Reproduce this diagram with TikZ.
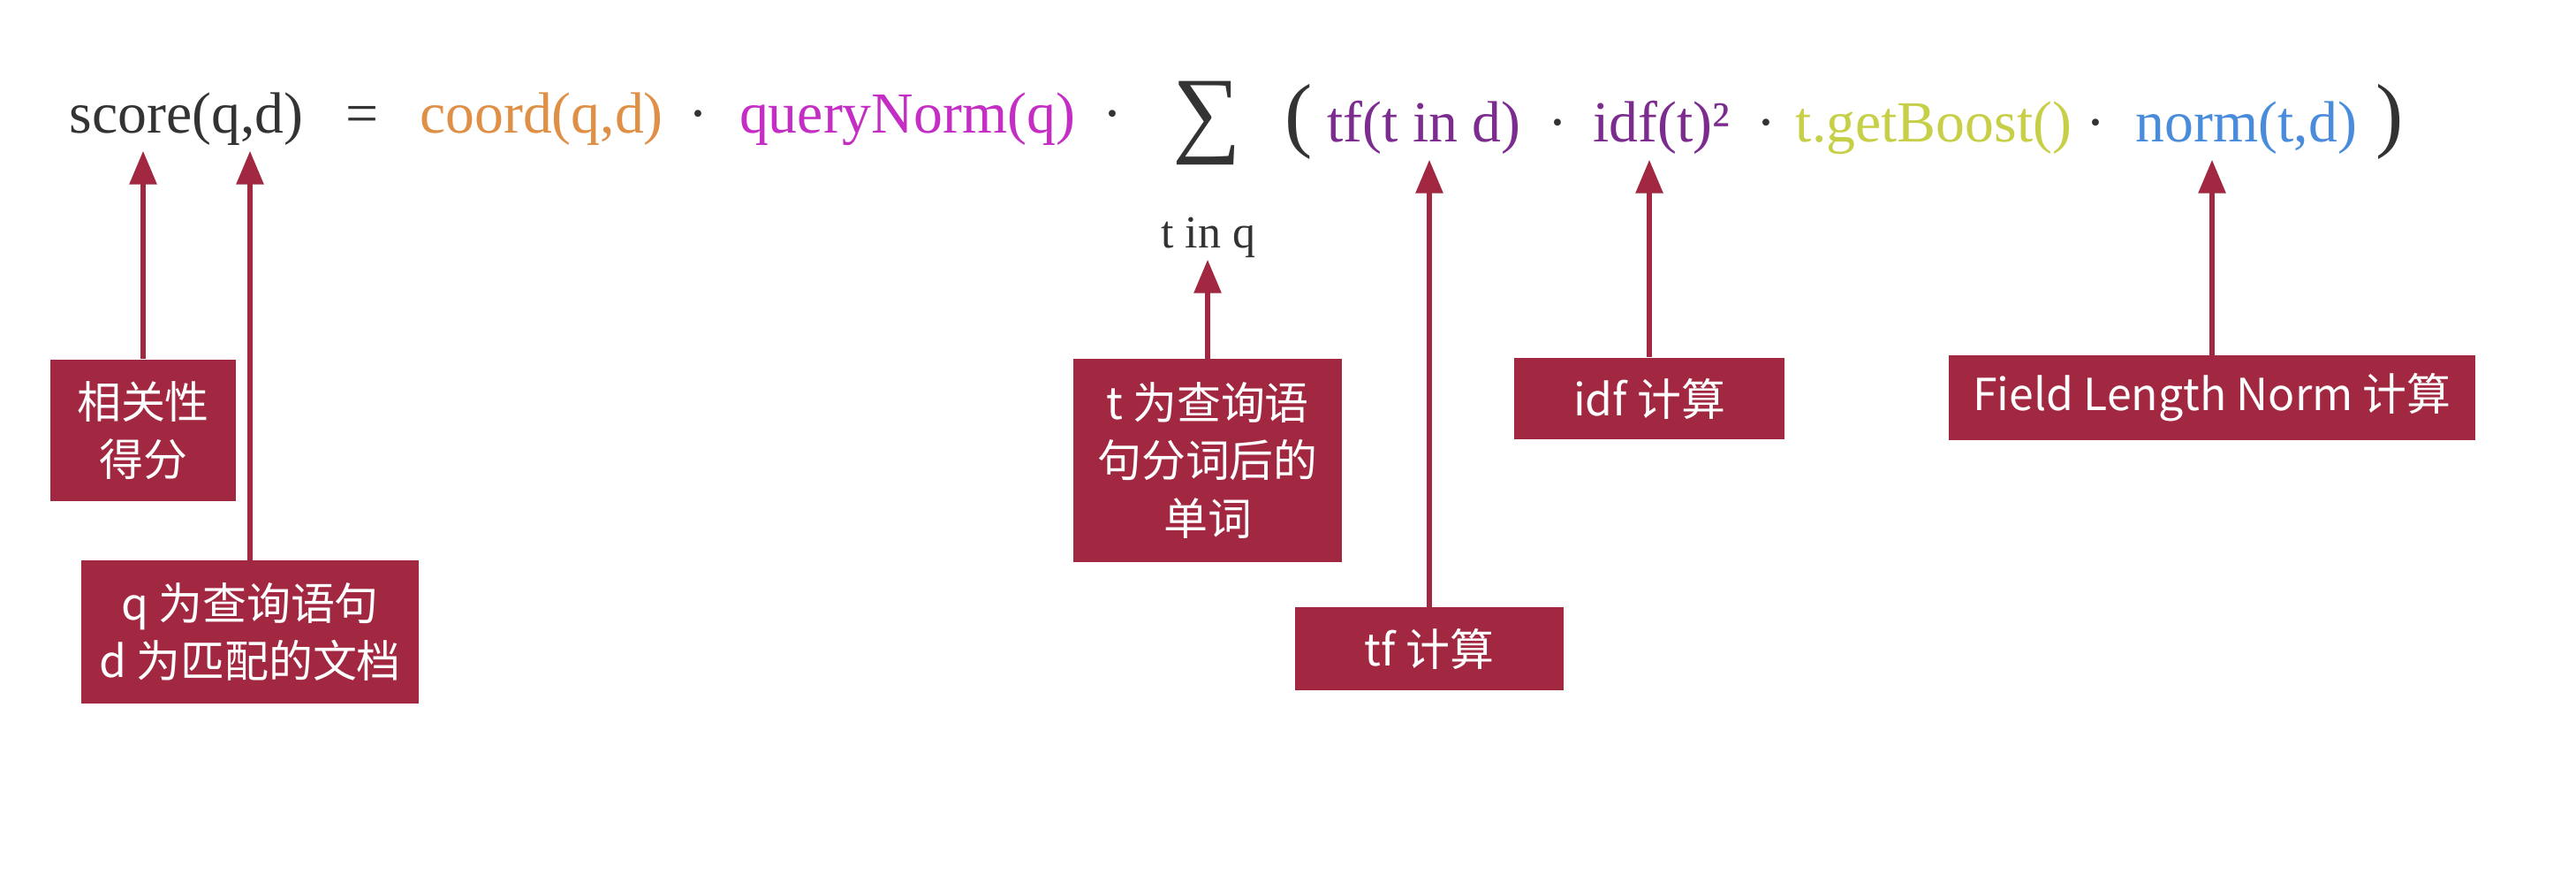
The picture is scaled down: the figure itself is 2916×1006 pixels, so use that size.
\documentclass[tikz,border=0pt]{standalone}
\usepackage{fontspec}
\setmainfont{Liberation Serif}
\newfontfamily\cjkfont{Noto Sans CJK SC}
\usetikzlibrary{positioning,arrows.meta}

\definecolor{boxred}{HTML}{A12840}
\definecolor{inkgray}{HTML}{333333}
\definecolor{coordc}{HTML}{E09046}
\definecolor{qnormc}{HTML}{C42EC4}
\definecolor{tfidfc}{HTML}{7B2C8E}
\definecolor{boostc}{HTML}{C6CF45}
\definecolor{normc}{HTML}{4A8CDC}

\begin{document}
\begin{tikzpicture}[
        x=0.01cm, y=-0.01cm,
        term/.style={anchor=base, inner sep=0pt, text depth=0.2cm, text=inkgray, font=\fontsize{18.7}{22}\selectfont},
        big/.style={inner sep=0pt, text=inkgray, font=\fontsize{26.7}{30}\selectfont},
        note/.style={rectangle, fill=boxred, text=white, align=center, inner sep=0pt, font=\cjkfont\fontsize{14.2}{18.6}\selectfont},
        arr/.style={-{Triangle[length=0.38cm, width=0.3cm]}, line width=0.06cm, boxred},
    ]
    \fill[white] (0,0) rectangle (2916,1006);

    % ----- Formula -----
    \node[term] (score) at (211,150) {score(q,d)};
    \node[term] (eq) at (410,150) {=};
    \node[term, text=coordc] (coord) at (613,150) {coord(q,d)};
    \node[term] (dot1) at (790,150) {·};
    \node[term, text=qnormc] (qnorm) at (1027,150) {queryNorm(q)};
    \node[term] (dot2) at (1259,150) {·};
    \node[big, font=\fontsize{31}{34}\selectfont] (sum) at (1366,139) {∑};
    \node[term, text depth=0.13cm, font=\fontsize{14.8}{18}\selectfont] (tinq) at (1368,280) {t in q};
    \node[big, anchor=base] (lpar) at (1470,160) {(};
    \node[term, text=tfidfc] (tf) at (1612,160) {tf(t in d)};
    \node[term] (dot3) at (1763,160) {·};
    \node[term, text=tfidfc] (idf) at (1881,160) {idf(t)²};
    \node[term] (dot4) at (1999,160) {·};
    \node[term, text=boostc] (boost) at (2189,160) {t.getBoost()};
    \node[term] (dot5) at (2372,160) {·};
    \node[term, text=normc] (norm) at (2543,160) {norm(t,d)};
    \node[big, anchor=base] (rpar) at (2705,160) {)};

    % ----- Notes -----
    \node[note, minimum width=2.1cm, minimum height=1.6cm] (relbox) at (162,487) {相关性\\得分};
    \node[note, minimum width=3.82cm, minimum height=1.61cm] (qdbox) at (283,715) {q 为查询语句\\d 为匹配的文档};
    \node[note, minimum width=3.03cm, minimum height=2.29cm] (tbox) at (1367,521) {t 为查询语\\句分词后的\\单词};
    \node[note, minimum width=3.03cm, minimum height=0.93cm] (tfbox) at (1618,734) {tf 计算};
    \node[note, minimum width=3.05cm, minimum height=0.92cm] (idfbox) at (1867,451) {idf 计算};
    \node[note, minimum width=5.96cm, minimum height=0.95cm] (fieldbox) at (2504,450) {Field Length Norm 计算};

    % ----- Arrows -----
    \draw[arr] (relbox.north) -- (relbox.north |- score.south);
    \draw[arr] (qdbox.north) -- (qdbox.north |- score.south);
    \draw[arr] (tbox.north) -- (tbox.north |- tinq.south);
    \draw[arr] (tfbox.north) -- (tfbox.north |- tf.south);
    \draw[arr] (idfbox.north) -- (idfbox.north |- idf.south);
    \draw[arr] (fieldbox.north) -- (fieldbox.north |- norm.south);
\end{tikzpicture}
\end{document}
